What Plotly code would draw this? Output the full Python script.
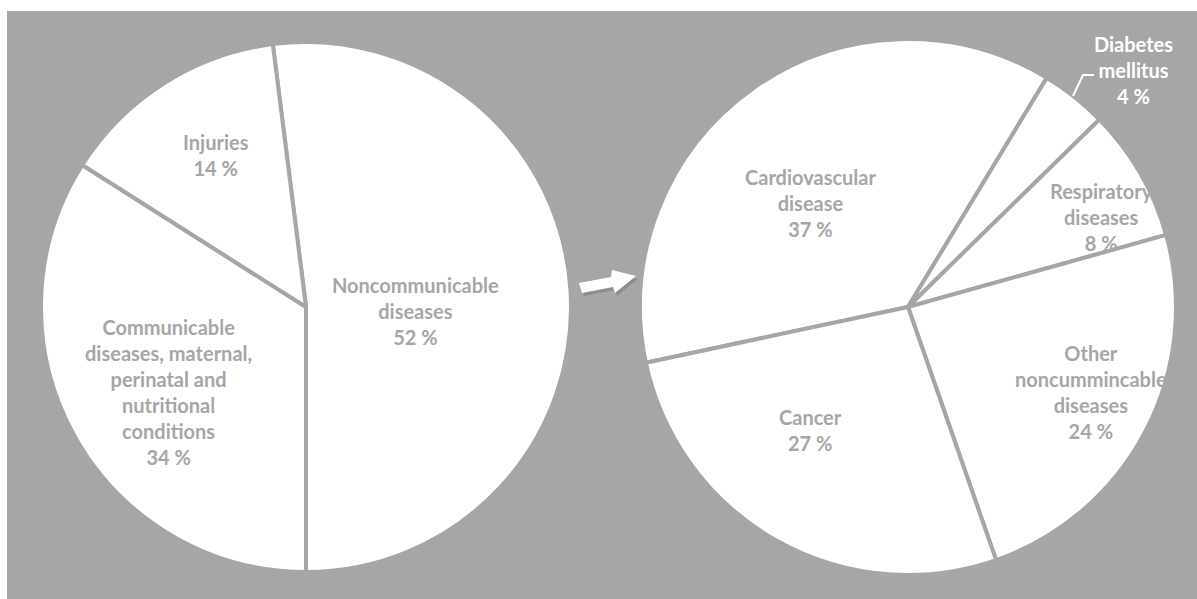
import plotly.graph_objects as go

W, H = 1197, 599

# Deaths by broad cause group
left_labels = ["Noncommunicable<br>diseases",
               "Communicable<br>diseases, maternal,<br>perinatal and<br>nutritional<br>conditions",
               "Injuries"]
left_values = [52, 34, 14]

# Breakdown of noncommunicable diseases
right_labels = ["Cardiovascular<br>disease", "Diabetes<br>mellitus",
                "Respiratory<br>diseases", "Other<br>noncummincable<br>diseases", "Cancer"]
right_values = [37, 4, 8, 24, 27]

# label anchor points (pixels from top-left of the canvas)
left_label_pos = [(415, 311), (168, 392), (216, 155)]
right_label_pos = [(810, 203), (1133, 70), (1101, 217), (1091, 392), (810, 430)]

BG = "#a6a6a6"
TEXT = "#a6a6a6"
FONT = "Lato"


def px(x):
    return x / W


def py(y):
    return 1 - y / H


def pie_domain(cx, cy, r):
    return dict(x=[px(cx - r), px(cx + r)], y=[py(cy + r), py(cy - r)])


fig = go.Figure()

slice_line = dict(color=BG, width=4)

fig.add_trace(go.Pie(
    labels=left_labels, values=left_values, sort=False,
    direction="clockwise",
    rotation=180 - left_values[0] / sum(left_values) * 360,
    marker=dict(colors=["white"] * len(left_values), line=slice_line),
    textinfo="none", textposition="none", hoverinfo="label+percent",
    showlegend=False, domain=pie_domain(306, 307, 265),
))

fig.add_trace(go.Pie(
    labels=right_labels, values=right_values, sort=False,
    direction="clockwise", rotation=258,
    marker=dict(colors=["white"] * len(right_values), line=slice_line),
    textinfo="none", textposition="none", hoverinfo="label+percent",
    showlegend=False, domain=pie_domain(908, 307, 268),
))

annotations = []


def add_labels(labels, values, positions, colors):
    for lab, val, (x, y), col in zip(labels, values, positions, colors):
        annotations.append(dict(
            x=px(x), y=py(y), xref="paper", yref="paper",
            text=f"{lab}<br>{val} %", showarrow=False,
            xanchor="center", yanchor="middle", align="center",
            font=dict(family=FONT, size=20, color=col, weight="bold"),
        ))


add_labels(left_labels, left_values, left_label_pos, [TEXT] * 3)
add_labels(right_labels, right_values, right_label_pos,
           [TEXT, "white", TEXT, TEXT, TEXT])


def path(points):
    return "M " + " L ".join(f"{px(x)},{py(y)}" for x, y in points) + " Z"


def open_path(points):
    return "M " + " L ".join(f"{px(x)},{py(y)}" for x, y in points)


arrow = [(579, 283), (611, 277), (612, 270), (636, 276), (615, 293),
         (613, 287), (582, 293)]
shadow = [(x + 2, y + 3) for x, y in arrow]

shapes = [
    dict(type="rect", xref="paper", yref="paper", x0=px(7), x1=1, y0=0, y1=py(11),
         fillcolor=BG, line=dict(width=0), layer="below"),
    dict(type="path", xref="paper", yref="paper", path=path(shadow),
         fillcolor="rgba(0,0,0,0.15)", line=dict(width=0)),
    dict(type="path", xref="paper", yref="paper", path=path(arrow),
         fillcolor="white", line=dict(width=0)),
    # leader line for the diabetes label
    dict(type="path", xref="paper", yref="paper",
         path=open_path([(1094, 75), (1083, 75), (1073, 96)]),
         line=dict(color="white", width=2)),
]

fig.update_layout(
    width=W, height=H,
    margin=dict(l=0, r=0, t=0, b=0),
    paper_bgcolor="white", plot_bgcolor="white",
    annotations=annotations, shapes=shapes,
)

fig.write_html("out.html")
